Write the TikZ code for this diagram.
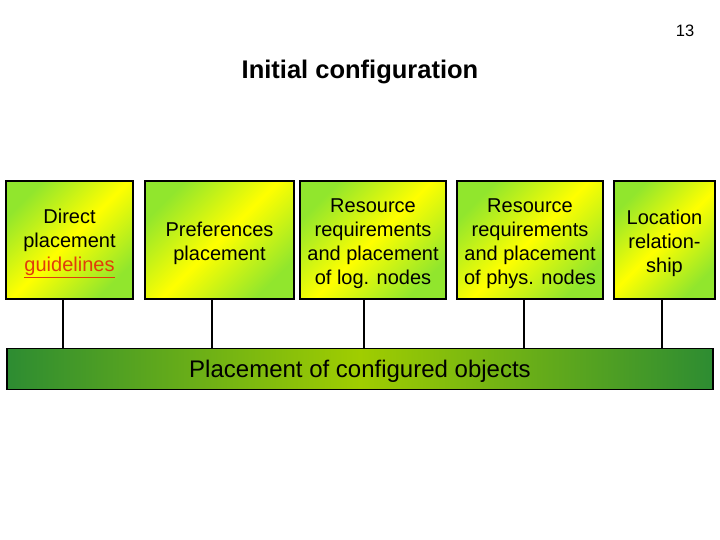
\documentclass[tikz,border=0pt]{standalone}
\usepackage{fontspec}
\setmainfont{Liberation Sans}
\usepackage{tikz}

\definecolor{boxgreen}{RGB}{145,230,45}
\definecolor{boxyellow}{RGB}{255,255,0}
\definecolor{bardark}{RGB}{45,140,50}
\definecolor{barlight}{RGB}{160,205,0}
\definecolor{linkred}{RGB}{225,60,10}
\newcommand{\topstrut}{\rule{0pt}{20.5pt}}

\begin{document}
\begin{tikzpicture}[x=1pt,y=-1pt,line width=1.2pt,
  box/.style={draw,line width=1.6pt,align=center,minimum height=118pt,inner sep=0pt,
    left color=boxgreen,right color=boxgreen,middle color=boxyellow,shading angle=45,
    font=\fontsize{20}{24}\selectfont},
  bar/.style={draw,line width=1.6pt,minimum width=706pt,minimum height=41pt,inner sep=0pt,
    left color=bardark,right color=bardark,middle color=barlight,
    font=\fontsize{24}{28}\selectfont,execute at begin node={\rule{0pt}{22pt}}}]
\useasboundingbox (0,0) rectangle (720,540);
\node (num) at (685,31) {\fontsize{16.5}{18}\selectfont 13};
\node (title) at (360,72) {\fontsize{25.5}{30}\selectfont\bfseries Initial configuration};
\node[box,minimum width=127pt] (b1) at (69.5,240) {\topstrut Direct\\placement\\\textcolor{linkred}{\underline{guidelines}}};
\node[box,minimum width=149pt] (b2) at (219.5,240) {\topstrut Preferences\\placement};
\node[box,minimum width=146pt] (b3) at (373,240) {\topstrut Resource\\requirements\\and placement\\of log. nodes};
\node[box,minimum width=146pt] (b4) at (530,240) {\topstrut Resource\\requirements\\and placement\\of phys. nodes};
\node[box,minimum width=101pt] (b5) at (664.5,240) {\topstrut Location\\relation-\\ship};
\node[bar] (bar) at (360,369) {Placement of configured objects};
\foreach \b/\d in {b1/-6.5,b2/-7.5,b3/-9,b4/-6,b5/-2.5}{\draw ([xshift=\d pt]\b.south) -- ([xshift=\d pt]\b.south |- bar.north);};
\end{tikzpicture}
\end{document}
